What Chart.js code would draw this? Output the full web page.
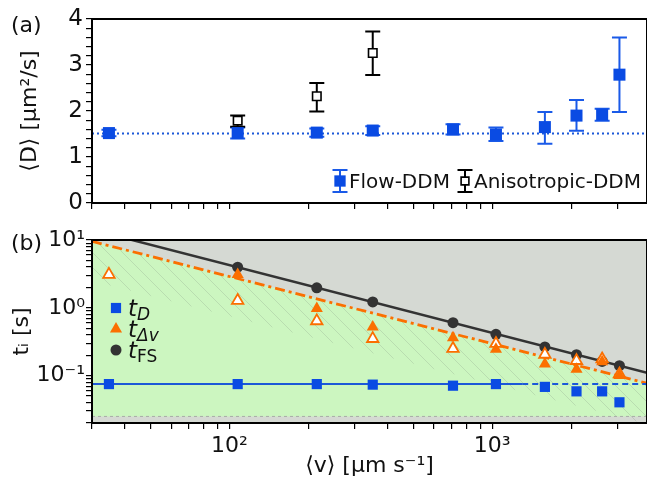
<!DOCTYPE html>
<html>
<head>
<meta charset="utf-8">
<script src="https://cdn.jsdelivr.net/npm/chart.js@4.4.1/dist/chart.umd.min.js"></script>
<style>
html, body { margin: 0; padding: 0; background: #fff; }
#wrap { position: relative; width: 647px; height: 482px; overflow: hidden; font-family: "DejaVu Sans", sans-serif; }
canvas { position: absolute; left: 0; }
#top { top: 0; }
#bot { top: 220px; }
.tag { position: absolute; font-size: 22px; line-height: 22px; color: #111; }
</style>
</head>
<body>
<div id="wrap">
  <canvas id="top" width="647" height="220"></canvas>
  <canvas id="bot" width="647" height="262"></canvas>
  <div class="tag" style="left:11px;top:14px">(a)</div>
  <div class="tag" style="left:11px;top:232px">(b)</div>
</div>
<script>
// flow velocities shared by both panels (um/s)
const velocity = [34.8, 107.5, 215, 351, 709, 1033, 1586, 2092, 2619, 3048];

// panel (a): diffusion coefficient
const flowD  = [1.52, 1.52, 1.53, 1.575, 1.60, 1.49, 1.65, 1.90, 1.92, 2.79];
const flowLo = [1.45, 1.40, 1.44, 1.48, 1.49, 1.35, 1.29, 1.57, 1.79, 1.98];
const flowHi = [1.59, 1.64, 1.62, 1.67, 1.71, 1.64, 1.98, 2.24, 2.05, 3.60];
const anisoV  = [107.5, 215, 351];
const anisoD  = [1.79, 2.32, 3.26];
const anisoLo = [1.66, 1.99, 2.78];
const anisoHi = [1.90, 2.61, 3.73];
const meanD = 1.51;

// panel (b): time scales
const tD        = [0.075, 0.075, 0.075, 0.0736, 0.071, 0.075, 0.0682, 0.0586, 0.0586, 0.0404];
const tDvFilled = [null, 3.1, 0.98, 0.52, 0.363, 0.245, 0.148, 0.124, 0.16, 0.10];
const tDvOpen   = [3.1, 1.28, 0.64, 0.35, 0.25, 0.296, 0.205, 0.166, 0.175, 0.105];
const tFS       = [null, 3.97, 1.97, 1.22, 0.604, 0.407, 0.265, 0.203, 0.162, 0.14];

// guide lines (end points)
const lineV = [30, 3880];
const fsLine = [14.2, 0.11];
const dvLine = [9.56, 0.077];
const hatchLine = [2.5, 0.0193];
const floorT = [0.025, 0.025];
const tDSolidV = [30, 1300];
const tDDashV = [1300, 3880];
const tDLevel = 0.075;

const vMin = 30, vMax = 3880;

const blue = '#0a4be3';
const blueLine = '#1c58d8';
const orange = '#fb6f00';
const dark = '#333333';

Chart.defaults.font.family = '"DejaVu Sans", sans-serif';
Chart.defaults.color = '#111';

const pts = (xs, ys) => xs.map((x, i) => ({ x: x, y: ys[i] })).filter(p => p.y != null);
const flat = (xs, y) => xs.map(x => ({ x: x, y: y }));

function keepNice(scale) {
  scale.ticks = scale.ticks.filter(t => {
    const e = Math.floor(Math.log10(t.value) + 1e-9);
    const m = t.value / Math.pow(10, e);
    return Math.abs(m - Math.round(m)) < 1e-6;
  });
}
const sup = { '-': '⁻', '0': '⁰', '1': '¹', '2': '²', '3': '³' };
function powLabel(v) {
  const e = Math.log10(v);
  if (Math.abs(e - Math.round(e)) > 1e-6) return '';
  return '10' + String(Math.round(e)).split('').map(c => sup[c]).join('');
}

const errorBars = {
  id: 'errorBars',
  beforeDatasetsDraw(chart) {
    const ctx = chart.ctx, xs = chart.scales.x, ys = chart.scales.y;
    chart.data.datasets.forEach(ds => {
      if (!ds.errLo) return;
      ctx.save();
      ctx.strokeStyle = ds.errColor;
      ctx.lineWidth = 2;
      ds.data.forEach((p, i) => {
        const x = xs.getPixelForValue(p.x);
        const y1 = ys.getPixelForValue(ds.errLo[i]);
        const y2 = ys.getPixelForValue(ds.errHi[i]);
        const c = ds.capHalf;
        ctx.beginPath();
        ctx.moveTo(x, y1); ctx.lineTo(x, y2);
        ctx.moveTo(x - c, y1); ctx.lineTo(x + c, y1);
        ctx.moveTo(x - c, y2); ctx.lineTo(x + c, y2);
        ctx.stroke();
      });
      ctx.restore();
    });
  }
};

const frame = {
  id: 'frame',
  beforeDraw(chart, args, o) {
    if (!o.bg) return;
    const a = chart.chartArea, ctx = chart.ctx;
    ctx.save();
    ctx.fillStyle = o.bg;
    ctx.fillRect(a.left, a.top, a.right - a.left, a.bottom - a.top);
    ctx.restore();
  },
  afterDraw(chart) {
    const a = chart.chartArea, ctx = chart.ctx;
    ctx.save();
    ctx.strokeStyle = '#000';
    ctx.lineWidth = 2;
    ctx.strokeRect(a.left, a.top, a.right - a.left, a.bottom - a.top);
    ctx.restore();
  }
};

const ddmLegend = {
  id: 'ddmLegend',
  afterDatasetsDraw(chart, args, o) {
    const ctx = chart.ctx;
    o.items.forEach(it => {
      const ds = chart.data.datasets[it.i];
      ctx.save();
      ctx.strokeStyle = ds.errColor;
      ctx.lineWidth = 2;
      ctx.beginPath();
      ctx.moveTo(it.x, o.y - 11); ctx.lineTo(it.x, o.y + 11);
      ctx.moveTo(it.x - 7.5, o.y - 11); ctx.lineTo(it.x + 7.5, o.y - 11);
      ctx.moveTo(it.x - 7.5, o.y + 11); ctx.lineTo(it.x + 7.5, o.y + 11);
      ctx.stroke();
      ctx.fillStyle = ds.backgroundColor;
      ctx.strokeStyle = ds.borderColor;
      ctx.lineWidth = ds.borderWidth;
      Chart.helpers.drawPoint(ctx, { pointStyle: 'rect', radius: it.r, rotation: 0, borderWidth: ds.borderWidth }, it.x, o.y);
      ctx.fillStyle = '#111';
      ctx.font = '20px "DejaVu Sans"';
      ctx.textBaseline = 'alphabetic';
      ctx.fillText(ds.label, it.x + 9, o.y + 7);
      ctx.restore();
    });
  }
};

const timeLegend = {
  id: 'timeLegend',
  afterDatasetsDraw(chart, args, o) {
    const ctx = chart.ctx;
    o.items.forEach((idx, row) => {
      const ds = chart.data.datasets[idx];
      const y = o.y + row * o.step;
      ctx.save();
      ctx.fillStyle = ds.backgroundColor;
      ctx.strokeStyle = ds.borderColor;
      ctx.lineWidth = ds.borderWidth || 0;
      Chart.helpers.drawPoint(ctx, { pointStyle: ds.pointStyle, radius: ds.pointRadius, rotation: 0, borderWidth: ds.borderWidth || 0 }, o.x, y);
      const parts = ds.label.split('_');
      ctx.fillStyle = '#111';
      ctx.textAlign = 'left';
      ctx.textBaseline = 'alphabetic';
      ctx.font = 'italic 23px "DejaVu Sans"';
      ctx.fillText(parts[0], o.x + 12, y + 8);
      const w = ctx.measureText(parts[0]).width;
      ctx.font = (ds.subItalic ? 'italic ' : '') + '17px "DejaVu Sans"';
      ctx.fillText(parts[1], o.x + 12 + w, y + 12);
      ctx.restore();
    });
  }
};

const logX = (fitH, showLabels) => ({
  type: 'logarithmic', min: vMin, max: vMax,
  afterBuildTicks: keepNice,
  afterFit: s => { s.height = fitH; },
  border: { display: false },
  grid: { drawOnChartArea: false, drawTicks: true, tickLength: 6, color: '#000', lineWidth: 1.2 },
  ticks: { autoSkip: false, maxRotation: 0, padding: 4, font: { size: 22 }, color: '#111',
           callback: v => showLabels ? powLabel(v) : '' }
});

new Chart('top', {
  type: 'line',
  data: {
    datasets: [
      { label: 'Flow-DDM', data: pts(velocity, flowD), showLine: false,
        pointStyle: 'rect', pointRadius: 8.5, backgroundColor: blue, borderColor: blue, borderWidth: 0,
        errLo: flowLo, errHi: flowHi, errColor: '#1a5ae8', capHalf: 7.5 },
      { label: 'Anisotropic-DDM', data: pts(anisoV, anisoD), showLine: false,
        pointStyle: 'rect', pointRadius: 6, backgroundColor: '#fff', borderColor: '#000', borderWidth: 1.6,
        errLo: anisoLo, errHi: anisoHi, errColor: '#000', capHalf: 7.5 },
      { label: 'mean', data: flat(lineV, meanD), pointRadius: 0, borderColor: blueLine,
        borderWidth: 2, borderDash: [2, 3] }
    ]
  },
  options: {
    responsive: false, animation: false, events: [],
    layout: { autoPadding: false, padding: { top: 19, left: 0, right: 0, bottom: 0 } },
    plugins: {
      legend: { display: false }, tooltip: { enabled: false },
      frame: {},
      ddmLegend: { y: 181, items: [{ i: 0, x: 340, r: 8 }, { i: 1, x: 465, r: 5.5 }] }
    },
    scales: {
      x: logX(17, false),
      y: {
        min: 0, max: 4,
        afterFit: s => { s.width = 92; },
        border: { display: false },
        grid: { drawOnChartArea: false, drawTicks: true, tickLength: 6, color: '#000', lineWidth: 1.2 },
        ticks: { stepSize: 0.2, autoSkip: false, padding: 3, font: { size: 23 }, color: '#111',
                 callback: v => Math.abs(v - Math.round(v)) < 1e-6 ? String(Math.round(v)) : '' },
        title: { display: true, text: '⟨D⟩ [μm²/s]', font: { size: 22 }, color: '#111', padding: { top: 17, bottom: 0 } }
      }
    }
  },
  plugins: [errorBars, frame, ddmLegend]
});

// hatch pattern for the band under the t_Δv line
const pc = document.createElement('canvas');
pc.width = 15; pc.height = 15;
const px = pc.getContext('2d');
px.strokeStyle = 'rgba(120,130,120,0.28)';
px.lineWidth = 0.8;
px.beginPath();
px.moveTo(0, 0); px.lineTo(15, 15);
px.moveTo(-1, 14); px.lineTo(1, 16);
px.moveTo(14, -1); px.lineTo(16, 1);
px.stroke();
const hatch = px.createPattern(pc, 'repeat');

new Chart('bot', {
  type: 'line',
  data: {
    datasets: [
      { label: 't_D', subItalic: true, data: pts(velocity, tD), showLine: false,
        pointStyle: 'rect', pointRadius: 7.2, backgroundColor: blue, borderColor: blue, borderWidth: 0 },
      { label: 't_Δv', subItalic: true, data: pts(velocity, tDvFilled), showLine: false,
        pointStyle: 'triangle', pointRadius: 7, backgroundColor: orange, borderColor: orange, borderWidth: 0 },
      { label: 'open', data: pts(velocity, tDvOpen), showLine: false,
        pointStyle: 'triangle', pointRadius: 6.6, backgroundColor: '#fff', borderColor: orange, borderWidth: 1.8 },
      { label: 't_FS', subItalic: false, data: pts(velocity, tFS), showLine: false,
        pointStyle: 'circle', pointRadius: 5.5, backgroundColor: dark, borderColor: dark, borderWidth: 0 },
      { label: 'fsLine', data: pts(lineV, fsLine), pointRadius: 0, borderColor: dark, borderWidth: 2.5 },
      { label: 'tDsolid', data: flat(tDSolidV, tDLevel), pointRadius: 0, borderColor: blueLine, borderWidth: 2 },
      { label: 'tDdash', data: flat(tDDashV, tDLevel), pointRadius: 0, borderColor: blueLine, borderWidth: 2, borderDash: [6, 4] },
      { label: 'hatch', data: pts(lineV, hatchLine), pointRadius: 0, borderWidth: 0, borderColor: 'rgba(0,0,0,0)',
        fill: { target: 8 }, backgroundColor: hatch },
      { label: 'dvLine', data: pts(lineV, dvLine), pointRadius: 0, borderColor: orange, borderWidth: 2.8,
        borderDash: [10, 4, 3, 4], fill: { target: 9 }, backgroundColor: '#ccf6c0' },
      { label: 'floor', data: pts(lineV, floorT), pointRadius: 0, borderColor: '#a9aca8', borderWidth: 1, borderDash: [3, 3] }
    ]
  },
  options: {
    responsive: false, animation: false, events: [],
    layout: { autoPadding: false, padding: { top: 20, left: 0, right: 0, bottom: 0 } },
    plugins: {
      legend: { display: false }, tooltip: { enabled: false },
      filler: { drawTime: 'beforeDatasetsDraw' },
      frame: { bg: '#d5d9d3' },
      timeLegend: { x: 116, y: 88, step: 21, items: [0, 1, 3] }
    },
    scales: {
      x: Object.assign(logX(59, true), {
        title: { display: true, text: '⟨v⟩ [μm s⁻¹]', font: { size: 22 }, color: '#111', padding: { top: 0, bottom: 3 } }
      }),
      y: {
        type: 'logarithmic', min: 0.02, max: 10,
        afterBuildTicks: keepNice,
        afterFit: s => { s.width = 92; },
        border: { display: false },
        grid: { drawOnChartArea: false, drawTicks: true, tickLength: 6, color: '#000', lineWidth: 1.2 },
        ticks: { autoSkip: false, padding: 1, font: { size: 22 }, color: '#111', callback: v => powLabel(v) },
        title: { display: true, text: 'tᵢ [s]', font: { size: 22 }, color: '#111', padding: { top: 9, bottom: 0 } }
      }
    }
  },
  plugins: [frame, timeLegend]
});
</script>
</body>
</html>
